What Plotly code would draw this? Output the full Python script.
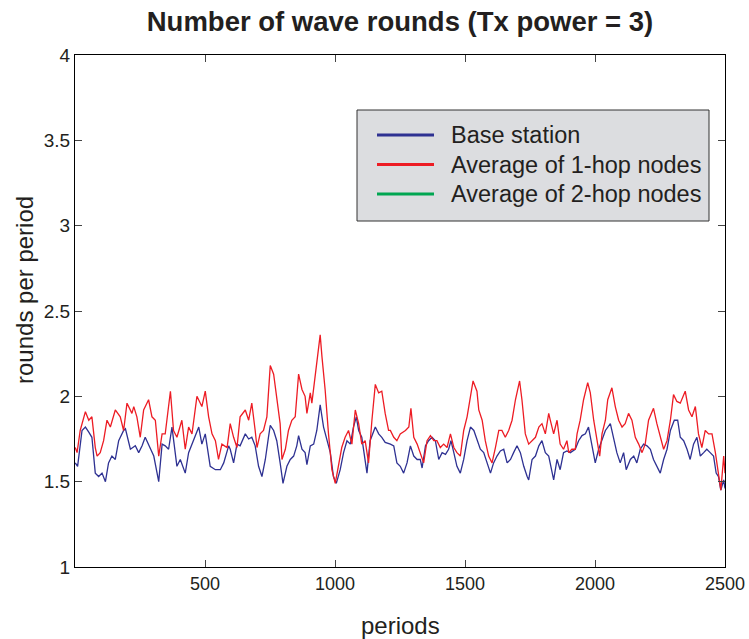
import plotly.graph_objects as go

# Base station (blue) readings
bs_x = [1, 10, 27, 40, 53, 65, 78, 91, 104, 117, 129, 142, 155, 168, 187, 194, 213, 232, 245, 258,
        270, 290, 303, 322, 335, 347, 360, 373, 392, 405, 424, 437, 456, 476, 488, 501, 520, 540, 559, 572,
        591, 597, 610, 623, 635, 655, 668, 680, 693, 706, 719, 732, 744, 751, 764, 776, 789, 800, 815, 828,
        841, 853, 860, 873, 885, 892, 905, 918, 930, 943, 956, 969, 982, 994, 1005, 1020, 1033, 1046, 1059, 1071,
        1082, 1091, 1103, 1123, 1135, 1155, 1168, 1180, 1193, 1213, 1226, 1238, 1251, 1264, 1277, 1290, 1303, 1316, 1328, 1335,
        1348, 1360, 1373, 1386, 1399, 1412, 1425, 1437, 1446, 1457, 1469, 1482, 1495, 1508, 1521, 1534, 1546, 1559, 1572, 1585,
        1598, 1610, 1623, 1636, 1649, 1662, 1675, 1687, 1700, 1713, 1726, 1739, 1745, 1758, 1771, 1784, 1796, 1809, 1822, 1841,
        1854, 1866, 1879, 1892, 1905, 1924, 1937, 1950, 1963, 1975, 1988, 2001, 2014, 2027, 2040, 2059, 2072, 2084, 2097, 2110,
        2120, 2136, 2149, 2161, 2174, 2187, 2200, 2213, 2225, 2238, 2251, 2264, 2277, 2290, 2305, 2318, 2328, 2341, 2354, 2366,
        2379, 2392, 2405, 2418, 2430, 2443, 2456, 2466, 2475, 2484, 2495, 2500]
bs_y = [1.61, 1.59, 1.80, 1.82, 1.79, 1.76, 1.55, 1.53, 1.55, 1.50, 1.61, 1.65, 1.63, 1.74, 1.80, 1.81, 1.69, 1.71, 1.67, 1.71,
        1.76, 1.69, 1.65, 1.50, 1.72, 1.71, 1.69, 1.82, 1.59, 1.63, 1.55, 1.67, 1.74, 1.82, 1.72, 1.78, 1.59, 1.57, 1.57, 1.61,
        1.71, 1.69, 1.61, 1.72, 1.71, 1.78, 1.75, 1.76, 1.71, 1.59, 1.53, 1.63, 1.76, 1.83, 1.80, 1.74, 1.61, 1.49, 1.59, 1.63,
        1.65, 1.71, 1.77, 1.69, 1.67, 1.60, 1.71, 1.72, 1.80, 1.95, 1.82, 1.74, 1.67, 1.53, 1.49, 1.57, 1.67, 1.74, 1.72, 1.82,
        1.88, 1.80, 1.76, 1.55, 1.74, 1.82, 1.78, 1.76, 1.73, 1.72, 1.71, 1.61, 1.59, 1.55, 1.61, 1.71, 1.65, 1.63, 1.63, 1.58,
        1.71, 1.74, 1.76, 1.74, 1.63, 1.67, 1.66, 1.69, 1.74, 1.67, 1.59, 1.55, 1.63, 1.74, 1.82, 1.80, 1.74, 1.69, 1.67, 1.61,
        1.55, 1.61, 1.65, 1.68, 1.69, 1.61, 1.63, 1.67, 1.71, 1.67, 1.59, 1.53, 1.51, 1.63, 1.65, 1.71, 1.74, 1.67, 1.65, 1.51,
        1.63, 1.57, 1.67, 1.68, 1.67, 1.69, 1.74, 1.77, 1.78, 1.82, 1.71, 1.61, 1.69, 1.74, 1.80, 1.84, 1.74, 1.67, 1.61, 1.67,
        1.57, 1.63, 1.65, 1.61, 1.69, 1.72, 1.71, 1.69, 1.63, 1.59, 1.55, 1.63, 1.69, 1.80, 1.86, 1.86, 1.76, 1.74, 1.69, 1.63,
        1.72, 1.76, 1.65, 1.67, 1.69, 1.67, 1.65, 1.55, 1.53, 1.45, 1.51, 1.46]

# Average of 1-hop nodes (red) readings
h1_x = [1, 8, 20, 40, 53, 65, 78, 85, 97, 110, 123, 136, 155, 174, 187, 200, 219, 226, 238, 251,
        264, 283, 296, 309, 322, 335, 347, 367, 379, 392, 411, 424, 437, 450, 469, 488, 501, 514, 527, 540,
        552, 565, 585, 597, 610, 623, 635, 655, 668, 680, 693, 700, 712, 725, 738, 744, 751, 764, 776, 789,
        796, 809, 821, 834, 847, 860, 873, 885, 892, 905, 911, 924, 937, 943, 950, 962, 975, 988, 1001, 1014,
        1026, 1039, 1052, 1065, 1078, 1091, 1103, 1116, 1129, 1142, 1155, 1168, 1180, 1193, 1206, 1213, 1226, 1238, 1251, 1271,
        1284, 1292, 1303, 1316, 1328, 1341, 1354, 1367, 1380, 1392, 1405, 1418, 1431, 1444, 1457, 1469, 1482, 1495, 1508, 1521,
        1531, 1546, 1553, 1566, 1578, 1591, 1604, 1617, 1630, 1642, 1655, 1668, 1681, 1694, 1710, 1719, 1732, 1745, 1758, 1771,
        1784, 1796, 1809, 1822, 1828, 1841, 1854, 1866, 1879, 1892, 1899, 1911, 1924, 1931, 1943, 1956, 1972, 1982, 1995, 2007,
        2018, 2027, 2040, 2049, 2065, 2078, 2091, 2104, 2116, 2129, 2142, 2155, 2168, 2181, 2193, 2206, 2225, 2238, 2251, 2264,
        2277, 2290, 2302, 2315, 2328, 2347, 2360, 2373, 2386, 2398, 2411, 2424, 2437, 2450, 2463, 2475, 2484, 2495, 2500]
h1_y = [1.70, 1.67, 1.80, 1.91, 1.86, 1.88, 1.70, 1.65, 1.67, 1.74, 1.86, 1.82, 1.92, 1.88, 1.80, 1.96, 1.90, 1.94, 1.88, 1.76,
        1.92, 1.98, 1.88, 1.86, 1.65, 1.78, 1.78, 2.03, 1.80, 1.76, 1.86, 1.69, 1.82, 1.78, 2.00, 1.94, 2.03, 1.88, 1.78, 1.74,
        1.63, 1.72, 1.70, 1.84, 1.76, 1.70, 1.88, 1.92, 1.86, 1.96, 1.80, 1.70, 1.78, 1.80, 1.88, 2.04, 2.18, 2.13, 1.98, 1.84,
        1.63, 1.69, 1.80, 1.86, 1.88, 2.13, 2.04, 2.00, 1.90, 2.02, 1.96, 2.12, 2.27, 2.36, 2.23, 2.04, 1.78, 1.57, 1.49, 1.59,
        1.70, 1.76, 1.80, 1.72, 1.92, 1.84, 1.72, 1.74, 1.61, 1.86, 2.07, 2.02, 2.03, 1.90, 1.80, 1.80, 1.76, 1.74, 1.78, 1.80,
        1.82, 1.93, 1.76, 1.72, 1.67, 1.61, 1.74, 1.77, 1.74, 1.74, 1.70, 1.72, 1.70, 1.78, 1.70, 1.67, 1.65, 1.80, 1.88, 2.00,
        2.09, 2.03, 1.92, 1.86, 1.74, 1.65, 1.61, 1.70, 1.80, 1.80, 1.76, 1.80, 1.86, 1.98, 2.09, 1.98, 1.78, 1.72, 1.74, 1.76,
        1.82, 1.84, 1.78, 1.90, 1.86, 1.78, 1.86, 1.72, 1.69, 1.74, 1.67, 1.69, 1.69, 1.78, 1.86, 1.98, 2.08, 2.02, 1.86, 1.76,
        1.65, 1.78, 1.86, 1.98, 2.05, 1.94, 1.86, 1.82, 1.84, 1.90, 1.86, 1.76, 1.72, 1.67, 1.72, 1.86, 1.93, 1.84, 1.76, 1.69,
        1.74, 1.86, 2.01, 1.97, 1.96, 2.03, 1.92, 1.88, 1.94, 1.78, 1.70, 1.80, 1.78, 1.78, 1.67, 1.55, 1.45, 1.65, 1.55]

# Average of 2-hop nodes (green): no visible samples in the plot
h2_x = [None]
h2_y = [None]

series_names = ["Base station", "Average of 1-hop nodes", "Average of 2-hop nodes"]
x_ticks = [500, 1000, 1500, 2000, 2500]
y_ticks = [1, 1.5, 2, 2.5, 3, 3.5, 4]
y_tick_labels = ["1", "1.5", "2", "2.5", "3", "3.5", "4"]

BLUE = "#2e3192"
RED = "#ed1c24"
GREEN = "#00a651"
COLORS = [BLUE, RED, GREEN]
TXT = "#231f20"
FONT = "Liberation Sans, Arial, Helvetica, sans-serif"

# pixel geometry of the plot area
L, R, T, B = 75, 725, 55, 567
W, H = 749, 639
PW, PH = R - L, B - T


def px(xp):
    return (xp - L) / PW


def py(yp):
    return (B - yp) / PH


fig = go.Figure()
for xs, ys, name, col in [(bs_x, bs_y, series_names[0], BLUE),
                          (h1_x, h1_y, series_names[1], RED),
                          (h2_x, h2_y, series_names[2], GREEN)]:
    fig.add_trace(go.Scatter(x=xs, y=ys, mode="lines", name=name,
                             line=dict(color=col, width=1.3), showlegend=False))

axis_common = dict(showline=True, linecolor="black", linewidth=1, mirror="ticks",
                   ticks="inside", ticklen=7, tickcolor="#444", showgrid=False, zeroline=False,
                   automargin=False)

fig.update_xaxes(range=[0, 2500], tickvals=x_ticks, ticktext=[str(v) for v in x_ticks],
                 tickfont=dict(family=FONT, size=18, color=TXT), **axis_common)
fig.update_yaxes(range=[1, 4], tickvals=y_ticks, ticktext=y_tick_labels,
                 tickfont=dict(family=FONT, size=19, color=TXT), **axis_common)

# Legend box (MATLAB style), drawn as shapes + text
shapes = [dict(type="rect", xref="paper", yref="paper",
               x0=px(357), x1=px(709), y0=py(221), y1=py(110),
               fillcolor="#dcdde0", line=dict(color="#333", width=1), layer="above")]
annotations = []
row_y = [135, 164.5, 194]
for name, col, yy in zip(series_names, COLORS, row_y):
    shapes.append(dict(type="line", xref="paper", yref="paper",
                       x0=px(377), x1=px(434), y0=py(yy), y1=py(yy),
                       line=dict(color=col, width=3), layer="above"))
    annotations.append(dict(text=name, xref="paper", yref="paper", x=px(449), y=py(yy),
                            xanchor="left", yanchor="middle", showarrow=False,
                            font=dict(family=FONT, size=23.5, color=TXT)))

# axis titles
annotations.append(dict(text="periods", xref="paper", yref="paper", x=px(401), y=py(625),
                        xanchor="center", yanchor="middle", showarrow=False,
                        font=dict(family=FONT, size=24, color=TXT)))
annotations.append(dict(text="rounds per period", xref="paper", yref="paper", x=px(24), y=py(290),
                        xanchor="center", yanchor="middle", showarrow=False, textangle=-90,
                        font=dict(family=FONT, size=24, color=TXT)))

fig.update_layout(
    width=W, height=H,
    margin=dict(l=L, r=W - R, t=T, b=H - B),
    paper_bgcolor="white", plot_bgcolor="white",
    title=dict(text="<b>Number of wave rounds (Tx power = 3)</b>", x=400 / W, xanchor="center",
               y=1 - 21 / H, yanchor="middle", yref="container",
               font=dict(family=FONT, size=27.5, color=TXT)),
    shapes=shapes,
    annotations=annotations,
    showlegend=False,
)

fig.write_html("out.html")
